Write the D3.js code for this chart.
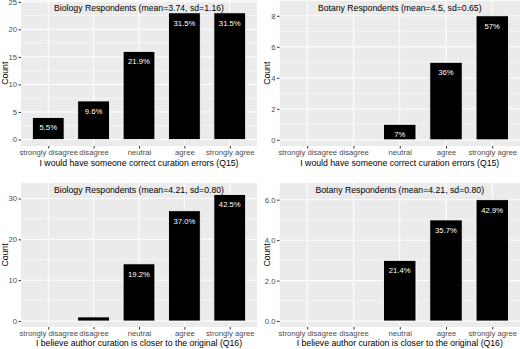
<!DOCTYPE html>
<html>
<head>
<meta charset="utf-8">
<script src="https://cdn.jsdelivr.net/npm/d3@7"></script>
<style>
  html, body { margin: 0; padding: 0; background: #fff; }
  svg { display: block; font-family: "Liberation Sans", Arial, sans-serif; }
  .tick text { fill: #4d4d4d; font-size: 7.7px; font-family: "Liberation Sans", Arial, sans-serif; }
  .tick line { stroke: #333; }
</style>
</head>
<body>
<div id="chart"></div>
<script>
const categories = ['strongly disagree', 'disagree', 'neutral', 'agree', 'strongly agree'];

// response counts per group and question
const bioQ15 = [4, 7, 16, 23, 23];
const botQ15 = [0, 0, 1, 5, 8];
const bioQ16 = [0, 1, 14, 27, 31];
const botQ16 = [0, 0, 3, 5, 6];

// share of respondents printed inside each bar
const bioQ15Labels = ['5.5%', '9.6%', '21.9%', '31.5%', '31.5%'];
const botQ15Labels = ['', '', '7%', '36%', '57%'];
const bioQ16Labels = ['', '1.4%', '19.2%', '37.0%', '42.5%'];
const botQ16Labels = ['', '', '21.4%', '35.7%', '42.9%'];

const bioQ15Ticks = [0, 5, 10, 15, 20, 25];
const botQ15Ticks = [0, 2, 4, 6, 8];
const bioQ16Ticks = [0, 10, 20, 30];
const botQ16Ticks = [0, 2, 4, 6];

const titles = [
  'Biology Respondents (mean=3.74, sd=1.16)',
  'Botany Respondents (mean=4.5, sd=0.65)',
  'Biology Respondents (mean=4.21, sd=0.80)',
  'Botany Respondents (mean=4.21, sd=0.80)'
];
const q15Title = 'I would have someone correct curation errors (Q15)';
const q16Title = 'I believe author curation is closer to the original (Q16)';

const WIDTH = 520;
const HEIGHT = 349;
const BAR_WIDTH = 0.7;

// panel frames: grey plotting area, pixel rows of zero and of the top tick
const frames = [
  { left: 21, right: 257, top: 0.5, bottom: 146, zeroY: 139.5, topTickY: 1.8, countX: 7.5, xTitleY: 166 },
  { left: 279.5, right: 520, top: 0.5, bottom: 146, zeroY: 139.8, topTickY: 15.8, countX: 269.7, xTitleY: 166 },
  { left: 21, right: 257, top: 183, bottom: 327, zeroY: 321, topTickY: 198.5, countX: 7.5, xTitleY: 346.3 },
  { left: 279.5, right: 520, top: 183, bottom: 327, zeroY: 321, topTickY: 199.7, countX: 269.7, xTitleY: 346.3 }
];

const panels = [
  { counts: bioQ15, labels: bioQ15Labels, ticks: bioQ15Ticks, title: titles[0], xTitle: q15Title },
  { counts: botQ15, labels: botQ15Labels, ticks: botQ15Ticks, title: titles[1], xTitle: q15Title },
  { counts: bioQ16, labels: bioQ16Labels, ticks: bioQ16Ticks, title: titles[2], xTitle: q16Title },
  { counts: botQ16, labels: botQ16Labels, ticks: botQ16Ticks, title: titles[3], xTitle: q16Title }
];

const svg = d3.select('#chart').append('svg')
  .attr('width', WIDTH)
  .attr('height', HEIGHT);

panels.forEach((panel, i) => drawPanel(panel, frames[i], i));

function drawPanel(panel, frame, index) {
  const xScale = d3.scalePoint()
    .domain(categories)
    .range([frame.left, frame.right])
    .padding(0.6);

  const yScale = d3.scaleLinear()
    .domain([0, panel.ticks[panel.ticks.length - 1]])
    .range([frame.zeroY, frame.topTickY]);

  const barWidth = xScale.step() * BAR_WIDTH;
  const minorTicks = d3.pairs(panel.ticks).map(([a, b]) => (a + b) / 2);
  const clipId = 'panel-clip-' + index;

  const g = svg.append('g');

  g.append('clipPath').attr('id', clipId)
    .append('rect')
    .attr('x', frame.left).attr('y', frame.top)
    .attr('width', frame.right - frame.left)
    .attr('height', frame.bottom - frame.top);

  const plot = g.append('g').attr('clip-path', `url(#${clipId})`);

  plot.append('rect')
    .attr('x', frame.left).attr('y', frame.top)
    .attr('width', frame.right - frame.left)
    .attr('height', frame.bottom - frame.top)
    .attr('fill', '#ebebeb');

  plot.selectAll('.minor').data(minorTicks).enter().append('line')
    .attr('x1', frame.left).attr('x2', frame.right)
    .attr('y1', d => yScale(d)).attr('y2', d => yScale(d))
    .attr('stroke', '#fff').attr('stroke-width', 0.5);

  plot.selectAll('.major-y').data(panel.ticks).enter().append('line')
    .attr('x1', frame.left).attr('x2', frame.right)
    .attr('y1', d => yScale(d)).attr('y2', d => yScale(d))
    .attr('stroke', '#fff').attr('stroke-width', 1);

  plot.selectAll('.major-x').data(categories).enter().append('line')
    .attr('x1', d => xScale(d)).attr('x2', d => xScale(d))
    .attr('y1', frame.top).attr('y2', frame.bottom)
    .attr('stroke', '#fff').attr('stroke-width', 1);

  const rows = categories.map((c, j) => ({ category: c, count: panel.counts[j], label: panel.labels[j] }))
    .filter(d => d.count > 0);

  plot.selectAll('.bar').data(rows).enter().append('rect')
    .attr('x', d => xScale(d.category) - barWidth / 2)
    .attr('y', d => yScale(d.count))
    .attr('width', barWidth)
    .attr('height', d => yScale(0) - yScale(d.count))
    .attr('fill', '#000')
    .attr('stroke', '#fff')
    .attr('stroke-width', 0.8);

  plot.selectAll('.pct').data(rows).enter().append('text')
    .attr('x', d => xScale(d.category))
    .attr('y', d => yScale(d.count) + 13)
    .attr('text-anchor', 'middle')
    .attr('fill', '#fff')
    .attr('font-size', 7.7)
    .text(d => d.label);

  g.append('text')
    .attr('x', (frame.left + frame.right) / 2)
    .attr('y', frame.top + 10)
    .attr('text-anchor', 'middle')
    .attr('font-size', 8.7)
    .attr('fill', '#000')
    .text(panel.title);

  const yAxis = g.append('g')
    .attr('transform', `translate(${frame.left},0)`)
    .call(d3.axisLeft(yScale).tickValues(panel.ticks).tickSize(2.5).tickPadding(1.5));
  yAxis.attr('font-family', null).attr('font-size', null);
  yAxis.select('.domain').remove();

  const xAxis = g.append('g')
    .attr('transform', `translate(0,${frame.bottom})`)
    .call(d3.axisBottom(xScale).tickSize(2.5).tickPadding(1.2));
  xAxis.attr('font-family', null).attr('font-size', null);
  xAxis.select('.domain').remove();

  g.append('text')
    .attr('transform', `translate(${frame.countX},${(frame.top + frame.bottom) / 2}) rotate(-90)`)
    .attr('text-anchor', 'middle')
    .attr('font-size', 8.7)
    .attr('fill', '#000')
    .text('Count');

  g.append('text')
    .attr('x', (frame.left + frame.right) / 2)
    .attr('y', frame.xTitleY)
    .attr('text-anchor', 'middle')
    .attr('font-size', 8.7)
    .attr('fill', '#000')
    .text(panel.xTitle);
}
</script>
</body>
</html>
